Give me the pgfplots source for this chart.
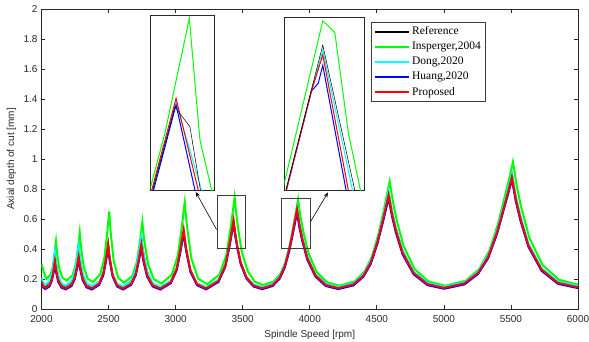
\documentclass[border=0pt]{standalone}
\usepackage{pgfplots}
\pgfplotsset{compat=1.18}
\usepackage{pgfplotstable}
\usepackage{fontspec}
\setmainfont{Liberation Sans}
\newfontfamily\legfont{Liberation Serif}
\usetikzlibrary{arrows.meta}
\definecolor{axgray}{RGB}{40,40,40}
\definecolor{boxgray}{RGB}{60,60,60}
\definecolor{mgreen}{RGB}{0,255,0}
\definecolor{mcyan}{RGB}{0,255,255}
\definecolor{mblue}{RGB}{0,0,255}
\definecolor{mred}{RGB}{255,0,0}

\pgfplotstableread{
x xg ref ins dong huang prop
2000 2000 0.200 0.300 0.210 0.170 0.180
2013 2021 0.165 0.235 0.175 0.143 0.150
2028 2036 0.150 0.200 0.160 0.133 0.140
2060 2068 0.178 0.228 0.184 0.151 0.160
2078 2086 0.235 0.285 0.235 0.190 0.201
2091 2099 0.320 0.370 0.310 0.247 0.262
2096 2104 0.370 0.420 0.354 0.280 0.298
2100 2108 0.400 0.450 0.380 0.300 0.320
2108 2116 0.324 0.372 0.313 0.249 0.265
2124 2132 0.225 0.271 0.225 0.183 0.194
2148 2156 0.164 0.208 0.171 0.143 0.151
2180 2188 0.146 0.190 0.155 0.131 0.138
2224 2232 0.178 0.225 0.184 0.153 0.161
2248 2256 0.246 0.299 0.245 0.199 0.210
2264 2272 0.346 0.408 0.335 0.266 0.282
2272 2280 0.405 0.472 0.388 0.306 0.325
2277 2285 0.440 0.510 0.420 0.330 0.350
2287 2295 0.351 0.411 0.340 0.270 0.286
2307 2315 0.236 0.282 0.235 0.192 0.203
2336 2344 0.165 0.203 0.171 0.144 0.152
2376 2384 0.144 0.180 0.152 0.130 0.137
2430 2438 0.178 0.232 0.181 0.161 0.169
2461 2469 0.248 0.340 0.243 0.225 0.237
2481 2489 0.352 0.500 0.334 0.320 0.336
2491 2499 0.413 0.594 0.388 0.376 0.395
2497 2505 0.450 0.650 0.420 0.410 0.430
2508 2516 0.358 0.508 0.339 0.326 0.342
2530 2538 0.238 0.322 0.234 0.217 0.227
2564 2572 0.164 0.208 0.169 0.150 0.157
2608 2616 0.143 0.175 0.150 0.130 0.136
2669 2677 0.182 0.220 0.186 0.161 0.168
2703 2711 0.264 0.313 0.262 0.225 0.236
2726 2734 0.386 0.450 0.374 0.320 0.336
2737 2745 0.457 0.531 0.440 0.376 0.395
2744 2752 0.500 0.580 0.480 0.410 0.430
2758 2766 0.393 0.457 0.380 0.326 0.342
2787 2795 0.253 0.297 0.251 0.217 0.227
2829 2837 0.167 0.199 0.171 0.150 0.157
2886 2894 0.142 0.170 0.148 0.130 0.136
2964 2972 0.181 0.229 0.187 0.172 0.179
3008 3016 0.264 0.354 0.268 0.259 0.270
3037 3045 0.385 0.537 0.387 0.388 0.404
3051 3059 0.457 0.645 0.458 0.464 0.483
3060 3068 0.500 0.710 0.500 0.510 0.530
3077 3085 0.393 0.547 0.394 0.396 0.412
3110 3118 0.253 0.334 0.256 0.248 0.259
3160 3168 0.167 0.203 0.172 0.158 0.165
3227 3235 0.142 0.165 0.147 0.131 0.137
3319 3327 0.192 0.229 0.195 0.180 0.187
3371 3379 0.298 0.362 0.294 0.282 0.291
3405 3413 0.453 0.559 0.441 0.433 0.445
3422 3430 0.545 0.675 0.528 0.522 0.536
3432 3440 0.600 0.745 0.580 0.575 0.590
3445 3453 0.508 0.628 0.493 0.486 0.500
3460 3468 0.426 0.523 0.415 0.407 0.418
3485 3493 0.316 0.382 0.311 0.300 0.310
3528 3536 0.215 0.254 0.215 0.203 0.210
3581 3589 0.160 0.183 0.163 0.150 0.156
3645 3653 0.142 0.160 0.146 0.132 0.138
3723 3731 0.164 0.183 0.167 0.153 0.159
3775 3783 0.216 0.237 0.218 0.201 0.209
3814 3822 0.295 0.320 0.295 0.276 0.286
3848 3856 0.415 0.445 0.412 0.389 0.402
3874 3882 0.534 0.570 0.528 0.501 0.517
3892 3900 0.622 0.662 0.613 0.583 0.602
3905 3913 0.687 0.730 0.677 0.645 0.665
3923 3931 0.578 0.615 0.571 0.543 0.560
3945 3953 0.480 0.512 0.475 0.450 0.465
3982 3990 0.350 0.374 0.348 0.328 0.339
4043 4051 0.230 0.247 0.231 0.215 0.223
4120 4128 0.165 0.178 0.167 0.153 0.160
4212 4220 0.143 0.155 0.146 0.133 0.139
4325 4333 0.169 0.183 0.171 0.157 0.164
4400 4408 0.230 0.249 0.232 0.215 0.223
4456 4464 0.324 0.350 0.324 0.303 0.313
4505 4513 0.467 0.503 0.463 0.437 0.450
4543 4551 0.609 0.655 0.602 0.570 0.586
4569 4577 0.712 0.767 0.704 0.667 0.685
4588 4596 0.790 0.850 0.780 0.740 0.760
4613 4621 0.661 0.711 0.654 0.619 0.636
4642 4650 0.545 0.586 0.540 0.510 0.525
4692 4700 0.390 0.419 0.388 0.365 0.376
4774 4782 0.248 0.266 0.249 0.232 0.240
4878 4886 0.171 0.183 0.173 0.159 0.166
5002 5010 0.145 0.155 0.148 0.135 0.141
5154 5162 0.176 0.188 0.178 0.164 0.171
5255 5263 0.248 0.266 0.250 0.234 0.241
5330 5338 0.359 0.386 0.359 0.339 0.348
5396 5404 0.528 0.568 0.524 0.500 0.511
5446 5454 0.696 0.749 0.689 0.661 0.673
5482 5490 0.818 0.881 0.810 0.777 0.791
5507 5515 0.910 0.980 0.900 0.865 0.880
5536 5544 0.758 0.816 0.750 0.720 0.733
5571 5579 0.621 0.669 0.616 0.589 0.601
5630 5638 0.438 0.473 0.436 0.415 0.424
5728 5736 0.271 0.293 0.272 0.255 0.263
5850 5858 0.179 0.195 0.182 0.168 0.174
6000 6000 0.149 0.162 0.152 0.139 0.145
}\lobes

\begin{document}
\begin{tikzpicture}
\begin{axis}[
  at={(0pt,0pt)}, anchor=south west,
  scale only axis, width=536.5pt, height=300pt,
  xmin=2000, xmax=6000, ymin=0, ymax=2,
  xtick={2000,2500,3000,3500,4000,4500,5000,5500,6000},
  xticklabels={2000,2500,3000,3500,4000,4500,5000,5500,6000},
  ytick={0,0.2,0.4,0.6,0.8,1,1.2,1.4,1.6,1.8,2},
  yticklabels={0,0.2,0.4,0.6,0.8,1,1.2,1.4,1.6,1.8,2},
  tick align=inside,
  major tick length=4pt,
  axis line style={axgray, line width=0.9pt},
  major tick style={axgray, line width=0.7pt},
  tick label style={font=\fontsize{10}{12}\selectfont, text=axgray},
  xticklabel style={yshift=-2.5pt},
  yticklabel style={xshift=-0.5pt},
  /pgf/number format/assume math mode=true,
  xlabel={Spindle Speed [rpm]},
  ylabel={Axial depth of cut [mm]},
  every axis x label/.style={at={(axis description cs:0.5,-0.085)}, anchor=center, font=\fontsize{10}{12}\selectfont, text=axgray},
  every axis y label/.style={at={(axis description cs:-0.056,0.5)}, rotate=90, anchor=center, font=\fontsize{10}{12}\selectfont, text=axgray},
  legend image code/.code={\draw[#1, line width=1.8pt] (0pt,0pt) -- (34pt,0pt);},
  legend style={at={(axis description cs:0.614,0.957)}, anchor=north west,
    draw=boxgray, line width=0.9pt, font=\legfont\fontsize{11.5}{13}\selectfont,
    row sep=1.8pt, inner xsep=3pt, inner ysep=2.5pt, fill=white},
  legend cell align=left,
]
\addplot[black, line width=1pt] table[x=x, y=ref] {\lobes};
\addlegendentry{Reference}
\addplot[mgreen, line width=2pt] table[x=xg, y=ins] {\lobes};
\addlegendentry{Insperger,2004}
\addplot[mcyan, line width=2pt] table[x=x, y=dong] {\lobes};
\addlegendentry{Dong,2020}
\addplot[mblue, line width=2pt] table[x=x, y=huang] {\lobes};
\addlegendentry{Huang,2020}
\addplot[mred, line width=2pt] table[x=x, y=prop] {\lobes};
\addlegendentry{Proposed}
\draw[boxgray, line width=0.9pt] (axis cs:3312,0.405) rectangle (axis cs:3524,0.755);
\draw[boxgray, line width=0.9pt] (axis cs:3790,0.405) rectangle (axis cs:4002,0.74);
\draw[black, line width=0.6pt, -{Stealth[length=5pt,width=4pt]}] (axis cs:3305,0.53) -- (axis cs:3150,0.78);
\draw[black, line width=0.6pt, -{Stealth[length=5pt,width=4pt]}] (axis cs:4004,0.58) -- (axis cs:4136,0.777);
\end{axis}

\begin{axis}[
  at={(109.2pt,118.3pt)}, anchor=south west,
  scale only axis, width=64pt, height=174.7pt,
  xmin=3316, xmax=3528, ymin=0.405, ymax=0.755,
  ticks=none, axis line style={axgray, line width=1pt},
  axis background/.style={fill=white},
]
\addplot[mgreen, line width=1pt] coordinates {(3300,0.377) (3316,0.413) (3363,0.520) (3444,0.750) (3479,0.507) (3518,0.406) (3525,0.38)};
\addplot[mcyan, line width=1pt] coordinates {(3322,0.405) (3400,0.580) (3485,0.405)};
\addplot[mblue, line width=1pt] coordinates {(3325,0.405) (3400,0.577) (3463,0.405)};
\addplot[mred, line width=1pt] coordinates {(3310,0.384) (3319,0.405) (3400,0.590) (3474,0.405)};
\addplot[black, line width=0.5pt] coordinates {(3322,0.405) (3396,0.573) (3446,0.533) (3481,0.405)};
\end{axis}

\begin{axis}[
  at={(242.8pt,118.3pt)}, anchor=south west,
  scale only axis, width=80pt, height=173pt,
  xmin=3796, xmax=4008, ymin=0.405, ymax=0.74,
  ticks=none, axis line style={axgray, line width=1pt},
  axis background/.style={fill=white},
]
\addplot[mgreen, line width=1pt] coordinates {(3790,0.402) (3798,0.426) (3898,0.734) (3930,0.711) (3966,0.516) (3998,0.405) (4004,0.38)};
\addplot[mcyan, line width=1pt] coordinates {(3800,0.405) (3868,0.600) (3898,0.677) (3977,0.405)};
\addplot[mblue, line width=1pt] coordinates {(3801,0.405) (3868,0.598) (3886,0.613) (3898,0.648) (3960,0.405)};
\addplot[mred, line width=1pt] coordinates {(3801,0.405) (3868,0.598) (3898,0.668) (3966,0.405)};
\addplot[black, line width=0.5pt] coordinates {(3800,0.405) (3868,0.601) (3898,0.687) (3983,0.405)};
\end{axis}
\pgfresetboundingbox
\path[use as bounding box] (-41.5pt,-33pt) rectangle (547.5pt,309pt);
\end{tikzpicture}
\end{document}
